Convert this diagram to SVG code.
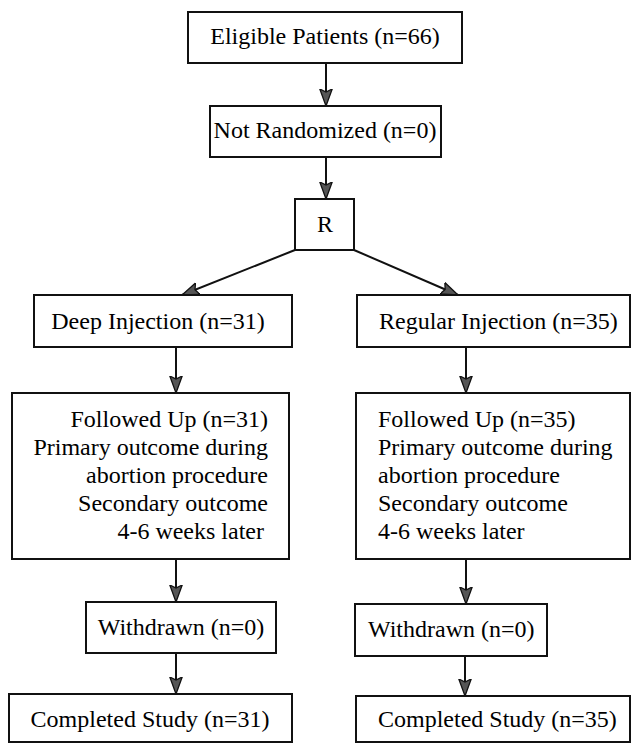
<svg xmlns="http://www.w3.org/2000/svg" width="631" height="744" viewBox="0 0 631 744">
  <defs>
    <style>
      .box { fill: #ffffff; stroke: #111111; stroke-width: 2; }
      .c { text-anchor: middle; }
      .e { text-anchor: end; }
      .conn { stroke: #111111; stroke-width: 2; fill: none; marker-end: url(#ah); }
    </style>
    <marker id="ah" markerUnits="userSpaceOnUse" viewBox="0 0 18 14" refX="17" refY="7" markerWidth="18" markerHeight="14" orient="auto">
      <path d="M0,0.8 L17,7 L0,13.2 L3,7 Z" fill="#555555" stroke="#111111" stroke-width="1.3"/>
    </marker>
  </defs>
  <rect x="0" y="0" width="631" height="744" fill="#ffffff"/>

  <g id="connectors">
    <line class="conn" x1="326" y1="63" x2="326" y2="106"/>
    <line class="conn" x1="326" y1="157" x2="326" y2="199"/>
    <line class="conn" x1="295" y1="250" x2="182" y2="295"/>
    <line class="conn" x1="354" y1="250" x2="458" y2="295"/>
    <line class="conn" x1="176" y1="347" x2="176" y2="393"/>
    <line class="conn" x1="466" y1="347" x2="466" y2="393"/>
    <line class="conn" x1="176" y1="559" x2="176" y2="602"/>
    <line class="conn" x1="176" y1="653" x2="176" y2="694"/>
    <line class="conn" x1="466" y1="559" x2="466" y2="604"/>
    <line class="conn" x1="465" y1="656" x2="465" y2="696"/>
  </g>

  <g font-family="Liberation Serif" font-size="24" fill="#000000">
    <g id="eligible">
      <rect class="box" x="188" y="12" width="274" height="51"/>
      <text class="c" x="325" y="44">Eligible Patients (n=66)</text>
    </g>
    <g id="not-randomized">
      <rect class="box" x="210" y="106" width="231" height="51"/>
      <text class="c" x="325" y="138">Not Randomized (n=0)</text>
    </g>
    <g id="randomization">
      <rect class="box" x="295" y="199" width="59" height="51"/>
      <text class="c" x="325" y="232">R</text>
    </g>
    <g id="deep-injection">
      <rect class="box" x="34" y="295" width="258" height="52"/>
      <text class="c" x="158" y="329">Deep Injection (n=31)</text>
    </g>
    <g id="regular-injection">
      <rect class="box" x="357" y="295" width="273" height="52"/>
      <text x="379" y="329">Regular Injection (n=35)</text>
    </g>
    <g id="followed-left">
      <rect class="box" x="12" y="393" width="277" height="166"/>
      <text class="e" x="268" y="427">Followed Up (n=31)</text>
      <text class="e" x="268" y="455">Primary outcome during</text>
      <text class="e" x="268" y="483">abortion procedure</text>
      <text class="e" x="268" y="511">Secondary outcome</text>
      <text class="e" x="264" y="539">4-6 weeks later</text>
    </g>
    <g id="followed-right">
      <rect class="box" x="356" y="393" width="274" height="166"/>
      <text x="378" y="427">Followed Up (n=35)</text>
      <text x="378" y="455">Primary outcome during</text>
      <text x="378" y="483">abortion procedure</text>
      <text x="378" y="511">Secondary outcome</text>
      <text x="378" y="539">4-6 weeks later</text>
    </g>
    <g id="withdrawn-left">
      <rect class="box" x="86" y="602" width="190" height="51"/>
      <text class="c" x="181" y="635">Withdrawn (n=0)</text>
    </g>
    <g id="withdrawn-right">
      <rect class="box" x="355" y="604" width="192" height="52"/>
      <text x="368" y="637">Withdrawn (n=0)</text>
    </g>
    <g id="completed-left">
      <rect class="box" x="9" y="694" width="283" height="48"/>
      <text class="c" x="150" y="727">Completed Study (n=31)</text>
    </g>
    <g id="completed-right">
      <rect class="box" x="356" y="696" width="274" height="46"/>
      <text x="378" y="727">Completed Study (n=35)</text>
    </g>
  </g>
</svg>
